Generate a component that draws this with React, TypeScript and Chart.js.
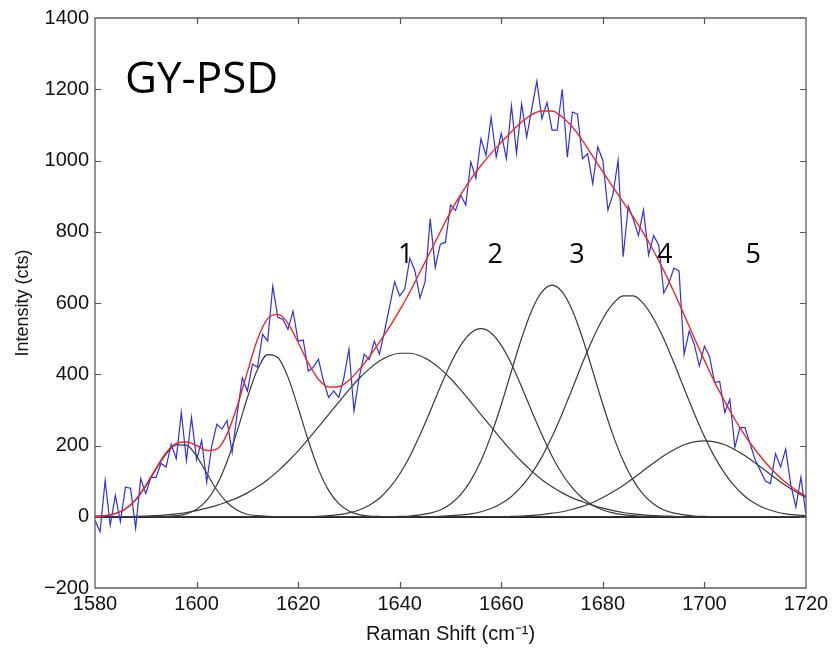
import React, { useEffect, useRef } from "react";
import { Chart, registerables } from "chart.js";

Chart.register(...registerables);

// Raman shift grid of the fitted curves (cm^-1)
const shiftFit = [
  1580, 1582, 1584, 1586, 1588, 1590, 1592, 1594, 1596, 1598,
  1600, 1602, 1604, 1606, 1608, 1610, 1612, 1614, 1616, 1618,
  1620, 1622, 1624, 1626, 1628, 1630, 1632, 1634, 1636, 1638,
  1640, 1642, 1644, 1646, 1648, 1650, 1652, 1654, 1656, 1658,
  1660, 1662, 1664, 1666, 1668, 1670, 1672, 1674, 1676, 1678,
  1680, 1682, 1684, 1686, 1688, 1690, 1692, 1694, 1696, 1698,
  1700, 1702, 1704, 1706, 1708, 1710, 1712, 1714, 1716, 1718,
  1720,
];

// Raman shift grid of the measured spectrum (cm^-1)
const shiftRaw = [
  1580, 1581, 1582, 1583, 1584, 1585, 1586, 1587, 1588, 1589,
  1590, 1591, 1592, 1593, 1594, 1595, 1596, 1597, 1598, 1599,
  1600, 1601, 1602, 1603, 1604, 1605, 1606, 1607, 1608, 1609,
  1610, 1611, 1612, 1613, 1614, 1615, 1616, 1617, 1618, 1619,
  1620, 1621, 1622, 1623, 1624, 1625, 1626, 1627, 1628, 1629,
  1630, 1631, 1632, 1633, 1634, 1635, 1636, 1637, 1638, 1639,
  1640, 1641, 1642, 1643, 1644, 1645, 1646, 1647, 1648, 1649,
  1650, 1651, 1652, 1653, 1654, 1655, 1656, 1657, 1658, 1659,
  1660, 1661, 1662, 1663, 1664, 1665, 1666, 1667, 1668, 1669,
  1670, 1671, 1672, 1673, 1674, 1675, 1676, 1677, 1678, 1679,
  1680, 1681, 1682, 1683, 1684, 1685, 1686, 1687, 1688, 1689,
  1690, 1691, 1692, 1693, 1694, 1695, 1696, 1697, 1698, 1699,
  1700, 1701, 1702, 1703, 1704, 1705, 1706, 1707, 1708, 1709,
  1710, 1711, 1712, 1713, 1714, 1715, 1716, 1717, 1718, 1719,
  1720,
];

// Measured intensity (cts)
const measured = [
  -10, -42, 102, -24, 60, -14, 83, 80, -32, 107,
  65, 111, 110, 150, 140, 204, 163, 293, 158, 279,
  160, 214, 97, 200, 260, 246, 270, 181, 290, 390,
  353, 428, 420, 512, 493, 647, 560, 554, 526, 577,
  493, 496, 409, 420, 442, 381, 335, 353, 335, 390,
  470, 297, 390, 456, 441, 493, 456, 520, 590, 660,
  620, 640, 726, 690, 614, 660, 837, 700, 765, 770,
  875, 860, 903, 875, 996, 950, 1061, 1014, 1121, 1010,
  1076, 1005, 1154, 1020, 1159, 1066, 1145, 1223, 1117, 1163,
  1085, 1085, 1200, 1009, 1136, 1130, 1005, 1019, 935, 1038,
  1000, 861, 906, 1001, 730, 872, 835, 789, 861, 735,
  789, 763, 628, 656, 698, 690, 456, 521, 484, 423,
  479, 450, 377, 380, 293, 330, 195, 251, 250, 204,
  160, 130, 100, 93, 177, 140, 190, 90, 27, 111,
  4,
];

// Fitted envelope (cts)
const fitTotal = [
  1, 3, 9, 22, 48, 88, 136, 180, 206, 210,
  200, 186, 190, 232, 310, 406, 498, 556, 568, 543,
  489, 431, 386, 364, 365, 383, 413, 449, 490, 533,
  580, 631, 687, 743, 800, 856, 904, 948, 986, 1020,
  1051, 1081, 1108, 1129, 1139, 1139, 1122, 1094, 1056, 1012,
  968, 925, 883, 841, 796, 746, 691, 631, 567, 502,
  439, 378, 324, 273, 228, 188, 153, 122, 96, 75,
  57,
];

// Component bands (cts)
const bandA = [
  1, 3, 9, 22, 47, 86, 133, 176, 202, 201,
  170, 122, 75, 40, 18, 7, 3, 1, 0, 0,
  0, 0, 0, 0, 0, 0, 0, 0, 0, 0,
  0, 0, 0, 0, 0, 0, 0, 0, 0, 0,
  0, 0, 0, 0, 0, 0, 0, 0, 0, 0,
  0, 0, 0, 0, 0, 0, 0, 0, 0, 0,
  0, 0, 0, 0, 0, 0, 0, 0, 0, 0,
  0,
];
const bandB = [
  0, 0, 0, 0, 0, 0, 0, 1, 3, 8,
  21, 46, 89, 155, 241, 334, 413, 455, 447, 392,
  306, 214, 133, 74, 37, 16, 6, 2, 1, 0,
  0, 0, 0, 0, 0, 0, 0, 0, 0, 0,
  0, 0, 0, 0, 0, 0, 0, 0, 0, 0,
  0, 0, 0, 0, 0, 0, 0, 0, 0, 0,
  0, 0, 0, 0, 0, 0, 0, 0, 0, 0,
  0,
];
const band1 = [
  0, 0, 0, 0, 1, 2, 3, 5, 8, 12,
  17, 24, 32, 42, 53, 67, 84, 104, 128, 155,
  185, 218, 252, 287, 322, 356, 388, 415, 437, 452,
  459, 459, 452, 437, 415, 388, 356, 322, 287, 252,
  218, 185, 155, 128, 104, 84, 67, 53, 42, 32,
  24, 17, 12, 8, 5, 3, 2, 1, 0, 0,
  0, 0, 0, 0, 0, 0, 0, 0, 0, 0,
  0,
];
const band2 = [
  0, 0, 0, 0, 0, 0, 0, 0, 0, 0,
  0, 0, 0, 0, 0, 0, 0, 0, 0, 0,
  0, 0, 1, 3, 6, 11, 19, 32, 52, 81,
  120, 170, 230, 296, 365, 429, 481, 516, 528, 516,
  481, 429, 365, 296, 230, 170, 120, 81, 52, 32,
  19, 11, 6, 3, 1, 0, 0, 0, 0, 0,
  0, 0, 0, 0, 0, 0, 0, 0, 0, 0,
  0,
];
const band3 = [
  0, 0, 0, 0, 0, 0, 0, 0, 0, 0,
  0, 0, 0, 0, 0, 0, 0, 0, 0, 0,
  0, 0, 0, 0, 0, 0, 0, 0, 0, 0,
  1, 2, 5, 10, 19, 36, 62, 102, 157, 229,
  315, 409, 501, 579, 631, 650, 631, 579, 501, 409,
  315, 229, 157, 102, 62, 36, 19, 10, 5, 2,
  1, 0, 0, 0, 0, 0, 0, 0, 0, 0,
  0,
];
const band4 = [
  0, 0, 0, 0, 0, 0, 0, 0, 0, 0,
  0, 0, 0, 0, 0, 0, 0, 0, 0, 0,
  0, 0, 0, 0, 0, 0, 0, 0, 0, 0,
  0, 0, 0, 0, 1, 3, 5, 8, 14, 23,
  37, 57, 85, 122, 168, 225, 290, 360, 432, 499,
  556, 598, 620, 620, 598, 556, 499, 432, 360, 290,
  225, 168, 122, 85, 57, 37, 23, 14, 8, 5,
  3,
];
const band5 = [
  0, 0, 0, 0, 0, 0, 0, 0, 0, 0,
  0, 0, 0, 0, 0, 0, 0, 0, 0, 0,
  0, 0, 0, 0, 0, 0, 0, 0, 0, 0,
  0, 0, 0, 0, 0, 0, 0, 0, 0, 0,
  0, 1, 2, 4, 6, 10, 14, 21, 29, 40,
  54, 70, 88, 108, 130, 151, 171, 188, 202, 210,
  213, 210, 202, 188, 171, 151, 130, 108, 88, 70,
  54,
];

const bands = [bandA, bandB, band1, band2, band3, band4, band5];

// Band numbers written above peaks 1..5
const bandNumbers = ["1", "2", "3", "4", "5"];
const sampleName = "GY-PSD";

const framePlugin = {
  id: "matlabFrame",
  afterDatasetsDraw(chart: any) {
    const { ctx, chartArea, scales } = chart;
    const { left, right, top, bottom } = chartArea;
    const xs = scales.x;
    const ys = scales.y;
    ctx.save();
    // frame
    ctx.strokeStyle = "#5c5c5c";
    ctx.lineWidth = 1.3;
    ctx.beginPath();
    ctx.rect(left, top, right - left, bottom - top);
    ctx.stroke();
    // inward ticks on all four sides
    ctx.lineWidth = 1.2;
    ctx.strokeStyle = "#555";
    ctx.beginPath();
    const tl = 6;
    xs.ticks.forEach((t: any) => {
      const px = Math.round(xs.getPixelForValue(t.value)) + 0.5;
      if (px <= left + 1 || px >= right - 1) return;
      ctx.moveTo(px, bottom);
      ctx.lineTo(px, bottom - tl);
      ctx.moveTo(px, top);
      ctx.lineTo(px, top + tl);
    });
    ys.ticks.forEach((t: any) => {
      const py = Math.round(ys.getPixelForValue(t.value)) + 0.5;
      if (py <= top + 1 || py >= bottom - 1) return;
      ctx.moveTo(left, py);
      ctx.lineTo(left + tl, py);
      ctx.moveTo(right, py);
      ctx.lineTo(right - tl, py);
    });
    ctx.stroke();

    // annotations
    ctx.fillStyle = "#000";
    ctx.textAlign = "left";
    ctx.textBaseline = "alphabetic";
    ctx.font = '44px "Open Sans", "Noto Sans", sans-serif';
    ctx.fillText(sampleName, left + 30, top + 75);

    ctx.font = '27px "Open Sans", "Noto Sans", sans-serif';
    ctx.textAlign = "center";
    ctx.textBaseline = "middle";
    const labelShift = [1641.2, 1658.8, 1674.9, 1692.2, 1709.6];
    const labelLevel = 733;
    bandNumbers.forEach((s, i) => {
      ctx.fillText(s, xs.getPixelForValue(labelShift[i]), ys.getPixelForValue(labelLevel));
    });
    ctx.restore();
  },
};

export default function App() {
  const canvasRef = useRef<HTMLCanvasElement | null>(null);

  useEffect(() => {
    document.body.style.margin = "0";
    const canvas = canvasRef.current;
    if (!canvas) return;

    const tickFont = { family: '"Liberation Sans", Arial, sans-serif', size: 20 };

    const datasets: any[] = [
      {
        label: "Fit",
        data: shiftFit.map((x, i) => ({ x, y: fitTotal[i] })),
        borderColor: "#ee2828",
        borderWidth: 1.4,
        cubicInterpolationMode: "monotone",
        order: 0,
      },
      {
        label: "Measured",
        data: shiftRaw.map((x, i) => ({ x, y: measured[i] })),
        borderColor: "#3030e2",
        borderWidth: 1.2,
        tension: 0,
        order: 1,
      },
      ...bands.map((b, k) => ({
        label: "Band " + k,
        data: shiftFit.map((x, i) => ({ x, y: b[i] })),
        borderColor: "#3a3a3a",
        borderWidth: 1.2,
        cubicInterpolationMode: "monotone",
        order: 2,
      })),
    ];

    const chart = new Chart(canvas, {
      type: "line",
      data: { datasets },
      plugins: [framePlugin],
      options: {
        responsive: false,
        animation: false,
        devicePixelRatio: 1,
        layout: { padding: { top: 15, right: 27, left: 0, bottom: 0 } },
        elements: { point: { radius: 0 } },
        plugins: { legend: { display: false }, tooltip: { enabled: false } },
        scales: {
          x: {
            type: "linear",
            min: 1580,
            max: 1720,
            grid: { display: false, drawTicks: false },
            border: { display: false },
            ticks: {
              stepSize: 20,
              color: "#111",
              font: tickFont,
              padding: 4,
              maxRotation: 0,
              autoSkip: false,
              callback: (v: any) => String(v),
            },
            title: {
              display: true,
              text: "Raman Shift (cm\u207B\u00B9)",
              color: "#111",
              font: { family: '"Liberation Sans", Arial, sans-serif', size: 20 },
              padding: { top: 0, bottom: 8 },
            },
            afterFit: (s: any) => {
              s.height = 66;
            },
          },
          y: {
            min: -200,
            max: 1400,
            grid: {
              display: true,
              drawTicks: false,
              color: (c: any) => (c.tick && c.tick.value === 0 ? "#111" : "rgba(0,0,0,0)"),
              lineWidth: (c: any) => (c.tick && c.tick.value === 0 ? 2 : 0),
            },
            border: { display: false },
            ticks: {
              stepSize: 200,
              color: "#111",
              font: tickFont,
              padding: 6,
              callback: (v: any) => (v < 0 ? "\u2212" + Math.abs(v) : String(v)),
            },
            title: {
              display: true,
              text: "Intensity (cts)",
              color: "#111",
              font: { family: '"Liberation Sans", Arial, sans-serif', size: 18 },
              padding: { top: 12, bottom: 0 },
            },
            afterFit: (s: any) => {
              s.width = 95;
            },
          },
        },
      } as any,
    });

    return () => {
      chart.destroy();
    };
  }, []);

  return (
    <div style={{ position: "absolute", left: 0, top: 0, width: 833, height: 654, background: "#fff" }}>
      <canvas ref={canvasRef} width={833} height={654} style={{ width: 833, height: 654 }} />
    </div>
  );
}
